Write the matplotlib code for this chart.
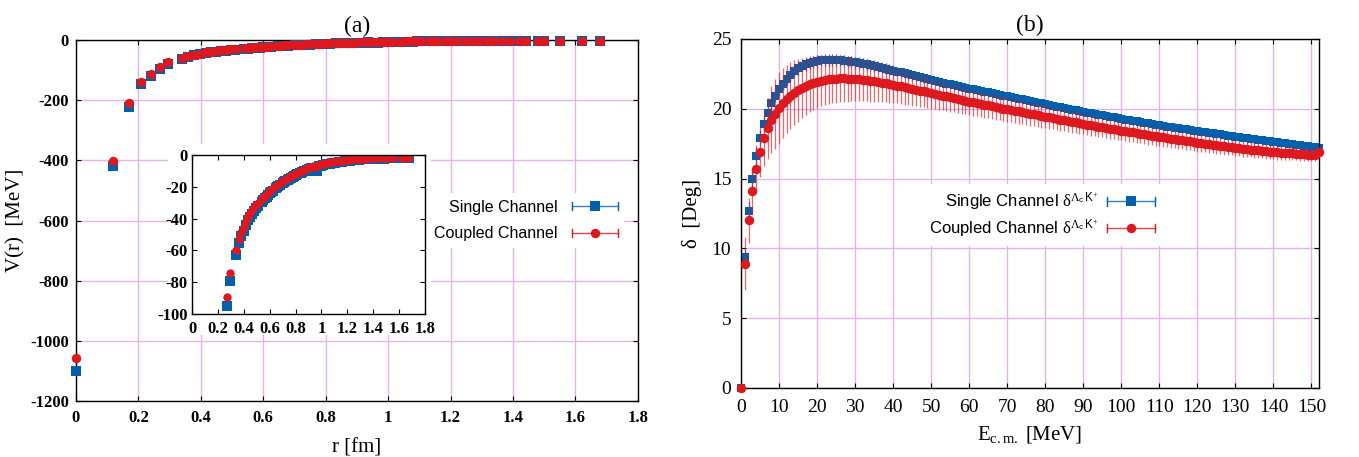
import matplotlib
matplotlib.use('Agg')
import matplotlib.pyplot as plt
from matplotlib.lines import Line2D
from matplotlib.patches import Rectangle
from matplotlib.legend_handler import HandlerBase

plt.rcParams['font.family'] = ['Liberation Sans', 'DejaVu Sans']
plt.rcParams['mathtext.fontset'] = 'custom'
plt.rcParams['mathtext.rm'] = 'Liberation Serif'
plt.rcParams['mathtext.it'] = 'Liberation Serif:italic'
plt.rcParams['mathtext.sf'] = 'Liberation Sans'
plt.rcParams['axes.unicode_minus'] = False

BLUE = '#0060ad'
RED = '#dd181f'
GRID = '#e3b4e8'
SERIF = 'Liberation Serif'

# ---------------- panel (a) data: V(r) ----------------
r_fm = [0.000, 0.120, 0.170, 0.208, 0.240, 0.268, 0.294, 0.339, 0.360, 0.379,
        0.398, 0.416, 0.433, 0.449, 0.465, 0.480, 0.495, 0.510, 0.537, 0.551,
        0.563, 0.576, 0.588, 0.600, 0.612, 0.624, 0.646, 0.657, 0.668, 0.679,
        0.700, 0.710, 0.720, 0.739, 0.749, 0.768, 0.778, 0.787, 0.805, 0.814,
        0.832, 0.840, 0.849, 0.866, 0.874, 0.890, 0.906, 0.922, 0.937, 0.952,
        0.967, 0.982, 0.996, 1.011, 1.039, 1.053, 1.066, 1.080, 1.093, 1.106,
        1.132, 1.145, 1.158, 1.183, 1.200, 1.220, 1.245, 1.270, 1.290, 1.315,
        1.340, 1.365, 1.390, 1.420, 1.440, 1.480, 1.500, 1.550, 1.620, 1.680]
V_single = [-1100, -420, -224, -146, -120, -95, -79, -63, -55.5, -51,
            -48, -44, -41, -39, -37, -35, -33.5, -32, -29.5, -28.3,
            -27.2, -26.2, -25.2, -24.2, -23.3, -22.4, -21.0, -20.3, -19.6, -19.0,
            -17.8, -17.2, -16.6, -15.6, -15.1, -14.2, -13.7, -13.3, -12.5, -12.1,
            -11.4, -11.1, -10.8, -10.2, -9.9, -9.4, -8.9, -8.4, -8.0, -9.8,
            -10.2, -7.0, -6.7, -6.4, -5.9, -5.6, -5.4, -5.2, -5.0, -4.8,
            -4.5, -4.3, -4.2, -3.9, -3.7, -3.5, -3.3, -3.1, -3.0, -2.8,
            -2.7, -2.6, -2.5, -2.4, -2.3, -2.3, -2.2, -2.1, -2.0, -2.0]
V_coupled = [-1058, -402, -209, -139, -112, -89, -74, -60, -53, -48.5,
             -45, -41.5, -38.5, -36.5, -34.5, -33, -31.5, -30, -27.5, -26.5,
             -25.5, -24.5, -23.6, -22.7, -21.8, -21.0, -19.6, -19.0, -18.3, -17.7,
             -16.6, -16.0, -15.5, -14.5, -14.0, -13.1, -12.7, -12.3, -11.5, -11.1,
             -10.4, -10.1, -9.8, -9.2, -8.9, -8.4, -7.9, -7.5, -7.1, -7.4,
             -7.0, -6.2, -5.9, -5.6, -5.1, -4.9, -4.7, -4.5, -4.3, -4.1,
             -3.8, -3.7, -3.6, -3.3, -3.1, -3.0, -2.8, -2.6, -2.5, -2.4,
             -2.3, -2.2, -2.1, -2.0, -2.0, -1.9, -1.9, -1.8, -1.8, -1.8]

# ---------------- panel (b) data: phase shifts ----------------
E_cm = list(range(0, 153))
delta_single = [
    0.0, 9.4, 12.7, 15.0, 16.6, 17.9, 18.9, 19.7, 20.4, 20.95,
    21.4, 21.8, 22.15, 22.45, 22.7, 22.9, 23.05, 23.18, 23.28, 23.36,
    23.42, 23.46, 23.49, 23.5, 23.5, 23.49, 23.47, 23.44, 23.41, 23.37,
    23.33, 23.28, 23.23, 23.18, 23.12, 23.06, 23.0, 22.94, 22.88, 22.81,
    22.74, 22.67, 22.6, 22.53, 22.46, 22.39, 22.32, 22.25, 22.18, 22.11,
    22.04, 21.98, 21.92, 21.86, 21.8, 21.74, 21.68, 21.62, 21.56, 21.5,
    21.44, 21.39, 21.33, 21.28, 21.22, 21.17, 21.11, 21.06, 21.0, 20.95,
    20.89, 20.84, 20.78, 20.72, 20.67, 20.61, 20.56, 20.5, 20.44, 20.39,
    20.33, 20.27, 20.22, 20.16, 20.11, 20.05, 20.0, 19.94, 19.89, 19.83,
    19.78, 19.73, 19.68, 19.63, 19.58, 19.53, 19.48, 19.43, 19.38, 19.33,
    19.28, 19.23, 19.19, 19.14, 19.09, 19.05, 19.0, 18.95, 18.91, 18.86,
    18.82, 18.78, 18.73, 18.69, 18.65, 18.61, 18.56, 18.52, 18.48, 18.44,
    18.4, 18.36, 18.32, 18.28, 18.24, 18.2, 18.16, 18.12, 18.08, 18.04,
    18.0, 17.96, 17.92, 17.88, 17.85, 17.81, 17.77, 17.73, 17.7, 17.66,
    17.62, 17.59, 17.55, 17.52, 17.48, 17.45, 17.41, 17.38, 17.34, 17.31,
    17.28, 17.25, 17.22]
err_single = [0.0, 0.55, 0.65, 0.7, 0.65, 0.6, 0.55, 0.5] + [0.45] * 13 + [0.4] * 20 + [0.3] * 112
delta_coupled = [
    0.0, 8.9, 12.0, 14.1, 15.7, 16.9, 17.9, 18.6, 19.2, 19.65,
    20.05, 20.4, 20.7, 20.95, 21.15, 21.33, 21.5, 21.64, 21.76, 21.86,
    21.95, 22.02, 22.07, 22.11, 22.14, 22.16, 22.17, 22.17, 22.16, 22.15,
    22.13, 22.1, 22.07, 22.04, 22.0, 21.96, 21.92, 21.87, 21.82, 21.77,
    21.72, 21.66, 21.6, 21.54, 21.48, 21.42, 21.36, 21.3, 21.24, 21.18,
    21.12, 21.06, 21.0, 20.94, 20.88, 20.82, 20.76, 20.7, 20.64, 20.58,
    20.52, 20.46, 20.41, 20.35, 20.3, 20.24, 20.19, 20.13, 20.08, 20.02,
    19.97, 19.92, 19.86, 19.81, 19.76, 19.7, 19.65, 19.6, 19.54, 19.49,
    19.44, 19.39, 19.34, 19.28, 19.23, 19.18, 19.13, 19.08, 19.02, 18.97,
    18.92, 18.87, 18.82, 18.78, 18.73, 18.68, 18.63, 18.58, 18.54, 18.49,
    18.44, 18.4, 18.35, 18.31, 18.26, 18.22, 18.17, 18.13, 18.08, 18.04,
    17.99, 17.95, 17.91, 17.87, 17.83, 17.79, 17.74, 17.7, 17.66, 17.62,
    17.58, 17.54, 17.5, 17.47, 17.43, 17.39, 17.35, 17.31, 17.28, 17.24,
    17.2, 17.17, 17.14, 17.11, 17.08, 17.05, 17.02, 16.99, 16.96, 16.93,
    16.9, 16.88, 16.86, 16.84, 16.82, 16.8, 16.78, 16.76, 16.74, 16.72,
    16.7, 16.72, 16.9]
err_coupled = [
    0.0, 1.9, 1.6, 1.6, 1.7, 1.8, 2.0, 2.2, 2.4, 2.5,
    2.55, 2.5, 2.45, 2.4, 2.33, 2.25, 2.17, 2.1, 2.02, 1.95,
    1.88, 1.83, 1.8, 1.77, 1.74, 1.71, 1.68, 1.66, 1.64, 1.62,
    1.6, 1.57, 1.54, 1.51, 1.48, 1.45, 1.42, 1.39, 1.36, 1.33,
    1.3, 1.28, 1.26, 1.24, 1.22, 1.2, 1.18, 1.16, 1.14, 1.12,
    1.1, 1.09, 1.07, 1.06, 1.04, 1.03, 1.01, 1.0, 0.98, 0.97,
    0.95, 0.945, 0.94, 0.935, 0.93, 0.925, 0.92, 0.915, 0.91, 0.905,
    0.9, 0.895, 0.89, 0.88, 0.875, 0.87, 0.86, 0.855, 0.85, 0.84,
    0.83, 0.825, 0.82, 0.81, 0.805, 0.8, 0.79, 0.785, 0.78, 0.77,
    0.76, 0.755, 0.75, 0.745, 0.74, 0.735, 0.73, 0.725, 0.72, 0.715,
    0.71, 0.707, 0.704, 0.701, 0.698, 0.695, 0.692, 0.689, 0.686, 0.683,
    0.68, 0.676, 0.672, 0.668, 0.664, 0.66, 0.656, 0.652, 0.648, 0.644,
    0.64, 0.634, 0.628, 0.622, 0.616, 0.61, 0.604, 0.598, 0.592, 0.586,
    0.58, 0.574, 0.568, 0.562, 0.556, 0.55, 0.544, 0.538, 0.532, 0.526,
    0.52, 0.514, 0.508, 0.502, 0.496, 0.49, 0.484, 0.478, 0.472, 0.466,
    0.46, 0.45, 0.45]

xticks_a = [0, 0.2, 0.4, 0.6, 0.8, 1, 1.2, 1.4, 1.6, 1.8]
yticks_a = [-1200, -1000, -800, -600, -400, -200, 0]
yticks_inset = [-100, -80, -60, -40, -20, 0]
xticks_b = list(range(0, 151, 10))
yticks_b = [0, 5, 10, 15, 20, 25]


def fmt(v):
    return f'{v:g}'


class HandlerErr(HandlerBase):
    def __init__(self, color, marker, ms):
        super().__init__()
        self.color = color
        self.marker = marker
        self.ms = ms

    def create_artists(self, legend, orig_handle, xdescent, ydescent,
                       width, height, fontsize, trans):
        y = height / 2 - ydescent
        x0 = -xdescent
        x1 = -xdescent + width
        c = 3.0
        arts = [Line2D([x0, x1], [y, y], color=self.color, lw=1.0, alpha=0.8),
                Line2D([x0, x0], [y - c, y + c], color=self.color, lw=1.0),
                Line2D([x1, x1], [y - c, y + c], color=self.color, lw=1.0),
                Line2D([(x0 + x1) / 2], [y], marker=self.marker, ms=self.ms,
                       color=self.color, mew=0, ls='none')]
        for a in arts:
            a.set_transform(trans)
        return arts


fig = plt.figure(figsize=(13.59, 4.57), dpi=100)

tick_kw = dict(direction='in', top=True, right=True, length=3.6, width=0.8)

# ---------------- panel (a) ----------------
ax1 = fig.add_axes([0.0559, 0.1225, 0.4135, 0.790])
ax1.set_xlim(0, 1.8)
ax1.set_ylim(-1200, 0)
ax1.grid(True, color=GRID, lw=1.0)
ax1.set_axisbelow(True)
ax1.plot(r_fm, V_single, 's', color=BLUE, ms=7.0, mew=0, clip_on=False, zorder=3)
ax1.plot(r_fm, V_coupled, 'o', color=RED, ms=6.8, mew=0, clip_on=False, zorder=4)
ax1.set_xticks(xticks_a, [fmt(v) for v in xticks_a], fontfamily=SERIF,
               fontweight='bold', fontsize=12)
ax1.set_yticks(yticks_a, [fmt(v) for v in yticks_a], fontfamily=SERIF,
               fontweight='bold', fontsize=12)
ax1.tick_params(axis='x', pad=6.5, **tick_kw)
ax1.tick_params(axis='y', pad=5, **tick_kw)
ax1.set_xlabel('r [fm]', fontfamily=SERIF, fontsize=15, labelpad=9)
ax1.set_ylabel('V(r)  [MeV]', fontfamily=SERIF, fontsize=15, labelpad=3)
ax1.set_title('(a)', fontfamily=SERIF, fontsize=17, pad=6)
for s in ax1.spines.values():
    s.set_linewidth(1.0)

hs1 = Line2D([], [])
hc1 = Line2D([], [])
leg1 = ax1.legend([hs1, hc1], ['Single Channel', 'Coupled Channel'],
                  handler_map={hs1: HandlerErr(BLUE, 's', 7.0),
                               hc1: HandlerErr(RED, 'o', 6.8)},
                  loc='center right', bbox_to_anchor=(0.99, 0.50),
                  markerfirst=False, fontsize=11.5, handlelength=2.9,
                  handletextpad=0.9, labelspacing=0.75, frameon=True,
                  fancybox=False, facecolor='white', edgecolor='none',
                  framealpha=1.0, borderpad=0.4)

# white backdrop behind the inset
fig.patches.append(Rectangle((0.1236, 0.267), 0.1935, 0.418,
                             transform=fig.transFigure, facecolor='white',
                             edgecolor='none', zorder=1))

axin = fig.add_axes([0.1413, 0.3129, 0.1714, 0.348], zorder=2)
axin.set_xlim(0, 1.8)
axin.set_ylim(-100, 0)
axin.plot(r_fm, V_single, 's', color=BLUE, ms=6.5, mew=0)
axin.plot(r_fm, V_coupled, 'o', color=RED, ms=6.0, mew=0)
axin.set_xticks(xticks_a, [fmt(v) for v in xticks_a], fontfamily=SERIF,
                fontweight='bold', fontsize=12)
axin.set_yticks(yticks_inset, [fmt(v) for v in yticks_inset], fontfamily=SERIF,
                fontweight='bold', fontsize=12)
axin.tick_params(axis='x', pad=5, **tick_kw)
axin.tick_params(axis='y', pad=3.3, **tick_kw)
for s in axin.spines.values():
    s.set_linewidth(1.0)

# ---------------- panel (b) ----------------
ax2 = fig.add_axes([0.5453, 0.151, 0.4253, 0.7637])
ax2.set_xlim(0, 152)
ax2.set_ylim(0, 25)
ax2.grid(True, color=GRID, lw=1.0)
ax2.set_axisbelow(True)
ax2.errorbar(E_cm, delta_single, yerr=err_single, fmt='s', color=BLUE, ms=6.0,
             mew=0, ecolor='#2f78c4', elinewidth=0.9, capsize=2.5, capthick=0.9,
             clip_on=False, zorder=2)
ax2.errorbar(E_cm, delta_coupled, yerr=err_coupled, fmt='o', color=RED, ms=6.8,
             mew=0, ecolor=(0.87, 0.09, 0.12, 0.65), elinewidth=0.9, capsize=2.5,
             capthick=1.0, clip_on=False, zorder=3)
ax2.set_xticks(xticks_b, [fmt(v) for v in xticks_b], fontfamily=SERIF, fontsize=14)
ax2.set_yticks(yticks_b, [fmt(v) for v in yticks_b], fontfamily=SERIF, fontsize=14)
ax2.tick_params(axis='x', pad=8, **tick_kw)
ax2.tick_params(axis='y', pad=7, **tick_kw)
ax2.set_xlabel(r'E$_{\mathrm{c.m.}}$ [MeV]', fontfamily=SERIF, fontsize=15, labelpad=6)
ax2.set_ylabel('δ  [Deg]', fontfamily=SERIF, fontsize=15, labelpad=7)
ax2.set_title('(b)', fontfamily=SERIF, fontsize=17, pad=6)
for s in ax2.spines.values():
    s.set_linewidth(1.0)

hs2 = Line2D([], [])
hc2 = Line2D([], [])
ax2.legend([hs2, hc2],
           [r'Single Channel $\mathrm{\delta}^{\mathrm{\Lambda}_{\mathsf{c}}\,\mathsf{K}^{+}}$',
            r'Coupled Channel $\mathrm{\delta}^{\mathrm{\Lambda}_{\mathsf{c}}\,\mathsf{K}^{+}}$'],
           handler_map={hs2: HandlerErr(BLUE, 's', 6.5),
                        hc2: HandlerErr(RED, 'o', 6.8)},
           loc='center right', bbox_to_anchor=(0.742, 0.496),
           markerfirst=False, fontsize=12, handlelength=2.9,
           handletextpad=0.5, labelspacing=0.3, frameon=True,
           fancybox=False, facecolor='white', edgecolor='none',
           framealpha=1.0, borderpad=0.4)

fig.savefig('out.png', dpi=100)
